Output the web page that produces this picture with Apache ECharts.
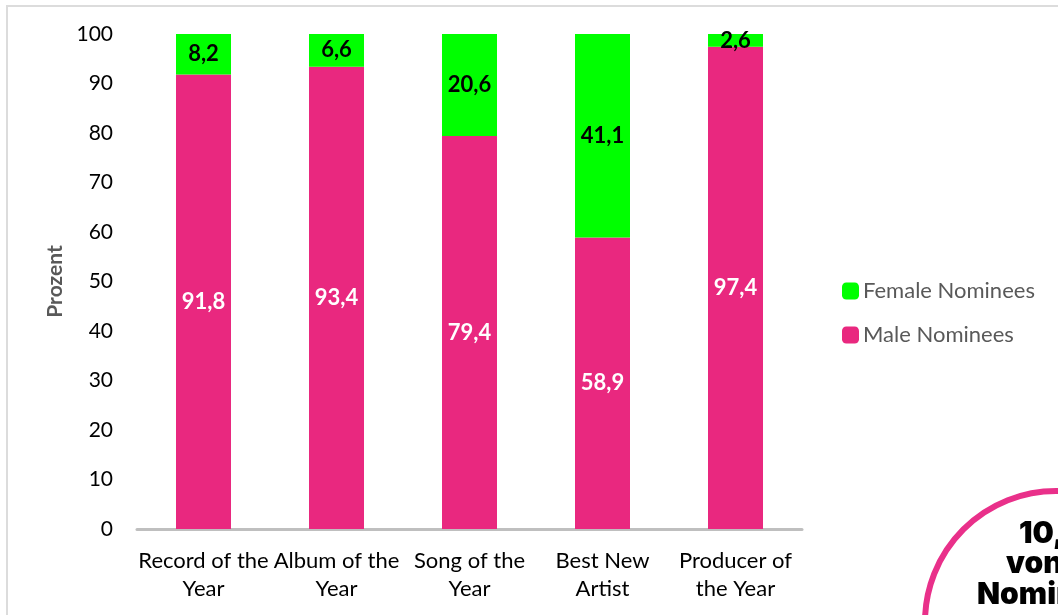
<!DOCTYPE html>
<html>
<head>
<meta charset="utf-8">
<script src="https://cdn.jsdelivr.net/npm/echarts@6/dist/echarts.min.js"></script>
<style>
  html, body { margin: 0; padding: 0; background: #fff; }
  #chart { width: 1058px; height: 615px; }
</style>
</head>
<body>
<div id="chart"></div>
<script>
// Grammy categories and nominee shares (percent)
const categories = ['Record of the\nYear', 'Album of the\nYear', 'Song of the\nYear', 'Best New\nArtist', 'Producer of\nthe Year'];
const maleNominees = [91.8, 93.4, 79.4, 58.9, 97.4];
const femaleNominees = [8.2, 6.6, 20.6, 41.1, 2.6];
const yTicks = { min: 0, max: 100, interval: 10 };

const FONT = 'Lato, "Open Sans", sans-serif';
const BADGE_FONT = 'Inter, "Open Sans", sans-serif';
const PINK = '#E9287F';
const GREEN = '#00FF00';

const fmt = v => String(v).replace('.', ',');

const chart = echarts.init(document.getElementById('chart'), null, { renderer: 'canvas' });

chart.setOption({
  animation: false,
  backgroundColor: '#ffffff',
  textStyle: { fontFamily: FONT },
  grid: { left: 137, right: 256, top: 34, bottom: 86, containLabel: false },
  legend: {
    orient: 'vertical',
    left: 837,
    top: 275,
    itemWidth: 17,
    itemHeight: 17,
    itemGap: 22,
    icon: 'roundRect',
    textStyle: { fontFamily: FONT, fontSize: 22, color: '#595959', padding: [0, 0, 0, -1] },
    data: ['Female Nominees', 'Male Nominees']
  },
  xAxis: {
    type: 'category',
    data: categories,
    axisLine: { lineStyle: { color: '#BFBFBF', width: 3 } },
    axisTick: { show: false },
    axisLabel: {
      fontFamily: FONT, fontSize: 22, color: '#000', lineHeight: 28, margin: 18, interval: 0
    }
  },
  yAxis: {
    type: 'value',
    min: yTicks.min,
    max: yTicks.max,
    interval: yTicks.interval,
    name: 'Prozent',
    nameLocation: 'middle',
    nameGap: 70,
    nameRotate: 90,
    nameTextStyle: { fontFamily: FONT, fontSize: 21, fontWeight: 'bold', color: '#595959' },
    axisLine: { show: false },
    axisTick: { show: false },
    splitLine: { show: false },
    axisLabel: { fontFamily: FONT, fontSize: 21, color: '#000', margin: 24 }
  },
  series: [
    {
      name: 'Male Nominees',
      type: 'bar',
      stack: 'total',
      barWidth: 55,
      itemStyle: { color: PINK },
      label: {
        show: true, position: 'inside', formatter: p => fmt(p.value),
        fontFamily: FONT, fontSize: 22, fontWeight: 'bold', color: '#fff'
      },
      data: maleNominees
    },
    {
      name: 'Female Nominees',
      type: 'bar',
      stack: 'total',
      barWidth: 55,
      itemStyle: { color: GREEN },
      label: {
        show: true, position: 'inside', formatter: p => fmt(p.value),
        fontFamily: FONT, fontSize: 22, fontWeight: 'bold', color: '#000'
      },
      data: femaleNominees
    }
  ],
  graphic: [
    // frame of the panel
    {
      type: 'rect', silent: true, z: -1,
      shape: { x: 7, y: 6, width: 1200, height: 800 },
      style: { fill: 'none', stroke: '#DCDCDC', lineWidth: 2 }
    },
    // badge in the lower right corner
    {
      type: 'circle', silent: true,
      shape: { cx: 1056, cy: 622, r: 131 },
      style: { fill: '#fff', stroke: '#E9308A', lineWidth: 6 }
    },
    {
      type: 'text', silent: true, left: 1019, top: 519,
      style: { text: '10,4 %', font: '900 30px ' + BADGE_FONT, fill: '#000' }
    },
    {
      type: 'text', silent: true, left: 1006, top: 549,
      style: { text: 'von allen', font: '900 30px ' + BADGE_FONT, fill: '#000' }
    },
    {
      type: 'text', silent: true, left: 977, top: 580,
      style: { text: 'Nominierten', font: '900 30px ' + BADGE_FONT, fill: '#000' }
    }
  ]
});
</script>
</body>
</html>
